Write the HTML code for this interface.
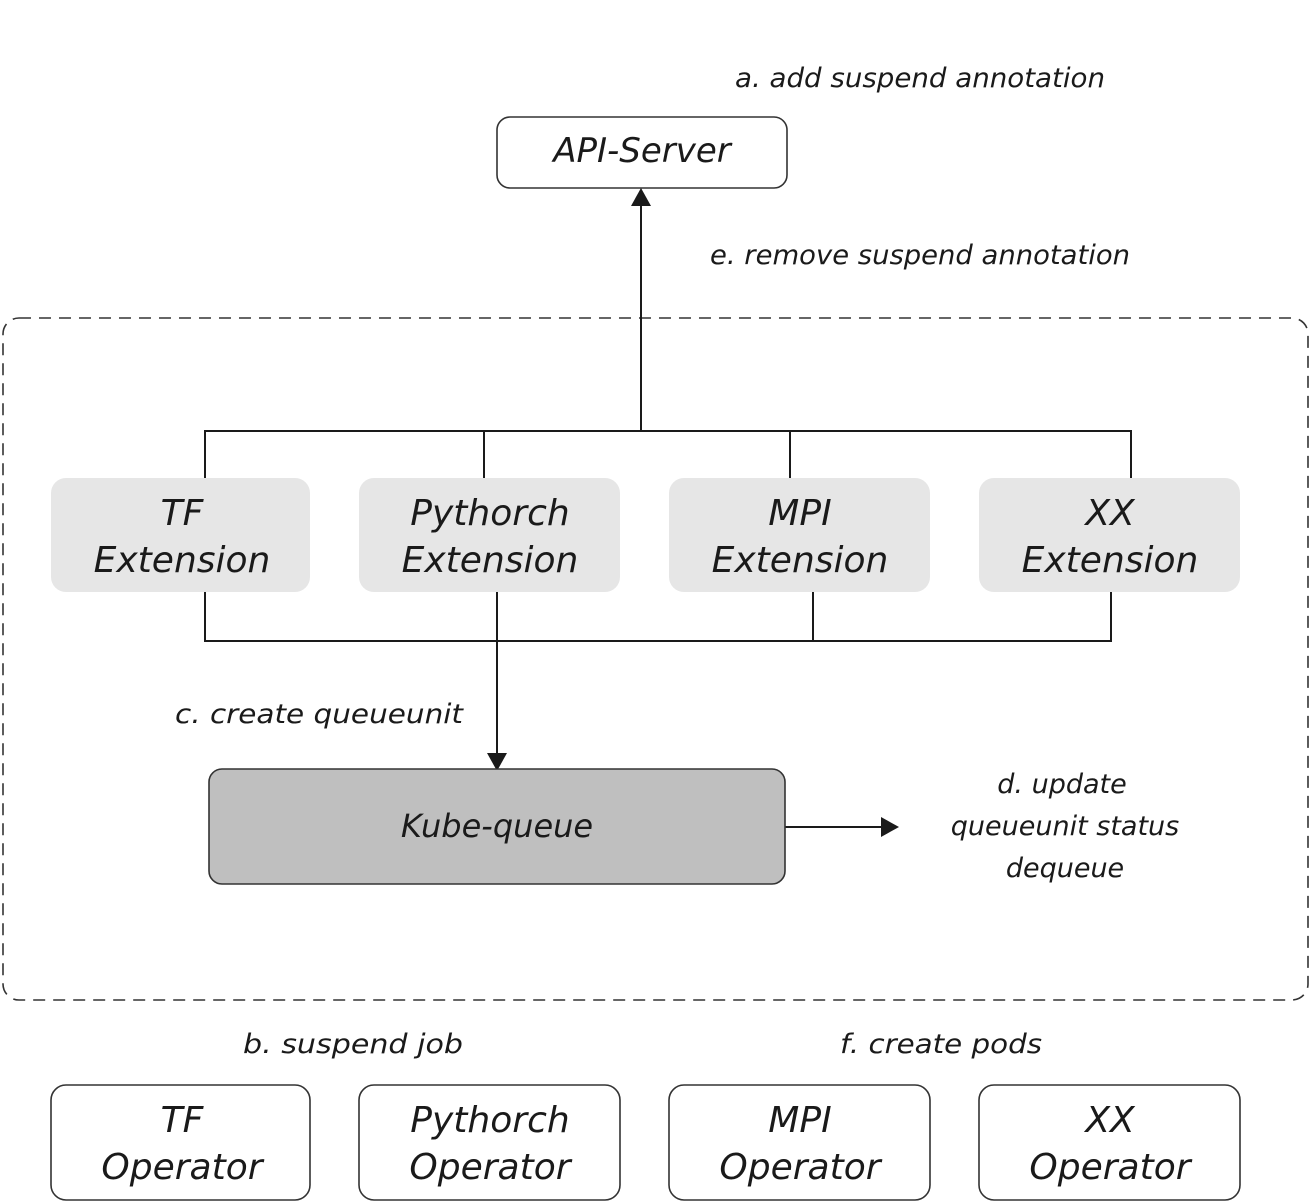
<!DOCTYPE html>
<html><head><meta charset="utf-8"><style>
html,body{margin:0;padding:0;background:#fff;}
svg{display:block;}
text{font-family:"DejaVu Sans","Liberation Sans",sans-serif;font-style:italic;fill:#1a1a1a;}
</style></head><body>
<svg width="1312" height="1204" viewBox="0 0 1312 1204" xmlns="http://www.w3.org/2000/svg">
<rect x="3" y="318" width="1305" height="682" rx="16" fill="none" stroke="#333" stroke-width="1.6" stroke-dasharray="12,8"/>
<rect x="497" y="117" width="290" height="71" rx="13" fill="#fff" stroke="#333" stroke-width="1.6"/>
<text x="642" y="162" font-size="34" text-anchor="middle">API-Server</text>
<text x="735" y="87" font-size="27" textLength="370" lengthAdjust="spacingAndGlyphs">a. add suspend annotation</text>
<text x="710" y="264" font-size="27" textLength="420" lengthAdjust="spacingAndGlyphs">e. remove suspend annotation</text>
<g stroke="#1a1a1a" stroke-width="2" fill="none">
<line x1="641" y1="431" x2="641" y2="204"/>
<polyline points="205,478 205,431 1131,431 1131,478"/>
<line x1="484" y1="431" x2="484" y2="478"/>
<line x1="790" y1="431" x2="790" y2="478"/>
<polyline points="205,592 205,641 1111,641 1111,592"/>
<line x1="813" y1="592" x2="813" y2="641"/>
<line x1="497" y1="592" x2="497" y2="754"/>
<line x1="785" y1="827" x2="882" y2="827"/>
</g>
<polygon points="641,188 631,206 651,206" fill="#1a1a1a"/>
<polygon points="497,771 487,753 507,753" fill="#1a1a1a"/>
<polygon points="899,827 881,817 881,837" fill="#1a1a1a"/>
<g fill="#e6e6e6">
<rect x="51" y="478" width="259" height="114" rx="15"/>
<rect x="359" y="478" width="261" height="114" rx="15"/>
<rect x="669" y="478" width="261" height="114" rx="15"/>
<rect x="979" y="478" width="261" height="114" rx="15"/>
</g>
<g font-size="36" text-anchor="middle">
<text x="182" y="525">TF</text><text x="182" y="572">Extension</text>
<text x="490" y="525">Pythorch</text><text x="490" y="572">Extension</text>
<text x="800" y="525">MPI</text><text x="800" y="572">Extension</text>
<text x="1110" y="525">XX</text><text x="1110" y="572">Extension</text>
</g>
<text x="175" y="723" font-size="27" textLength="288" lengthAdjust="spacingAndGlyphs">c. create queueunit</text>
<rect x="209" y="769" width="576" height="115" rx="13" fill="#bfbfbf" stroke="#333" stroke-width="1.6"/>
<text x="497" y="837" font-size="32" text-anchor="middle">Kube-queue</text>
<g font-size="27" text-anchor="middle">
<text x="1062" y="793">d. update</text>
<text x="1065" y="835">queueunit status</text>
<text x="1065" y="877">dequeue</text>
</g>
<text x="243" y="1053" font-size="27" textLength="220" lengthAdjust="spacingAndGlyphs">b. suspend job</text>
<text x="840" y="1053" font-size="27" textLength="202" lengthAdjust="spacingAndGlyphs">f. create pods</text>
<g fill="#fff" stroke="#333" stroke-width="1.6">
<rect x="51" y="1085" width="259" height="115" rx="15"/>
<rect x="359" y="1085" width="261" height="115" rx="15"/>
<rect x="669" y="1085" width="261" height="115" rx="15"/>
<rect x="979" y="1085" width="261" height="115" rx="15"/>
</g>
<g font-size="36" text-anchor="middle">
<text x="182" y="1132">TF</text><text x="182" y="1179">Operator</text>
<text x="490" y="1132">Pythorch</text><text x="490" y="1179">Operator</text>
<text x="800" y="1132">MPI</text><text x="800" y="1179">Operator</text>
<text x="1110" y="1132">XX</text><text x="1110" y="1179">Operator</text>
</g>
</svg>
</body></html>
